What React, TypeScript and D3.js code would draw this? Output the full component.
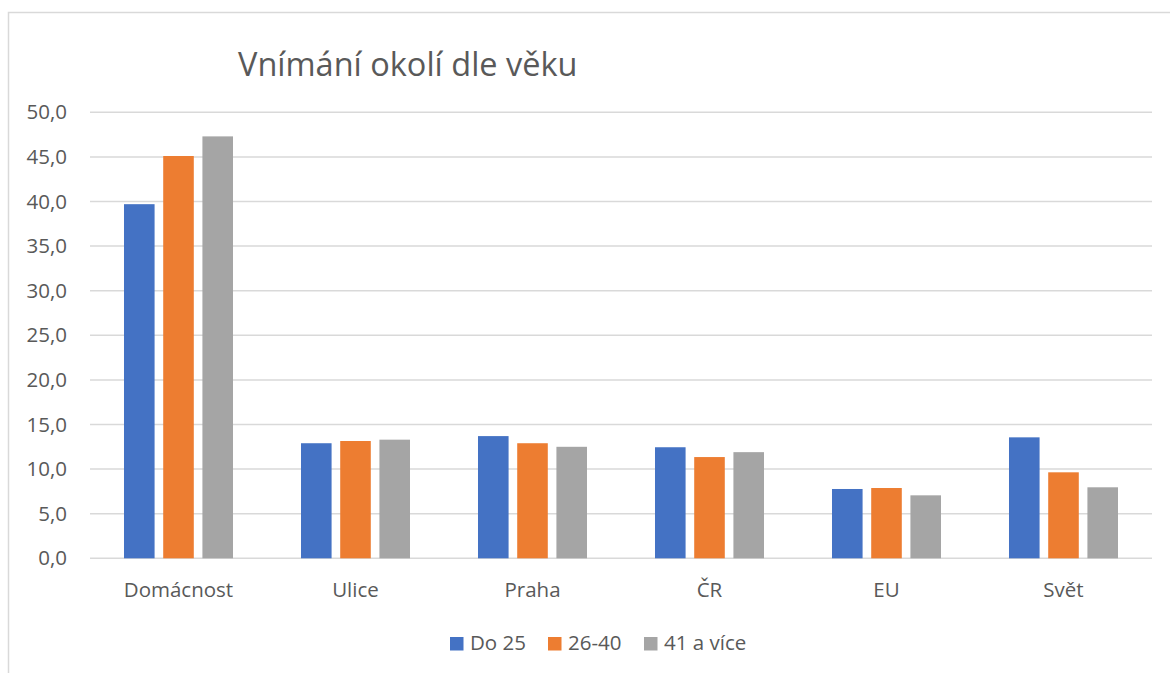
import React from "react";
import * as d3 from "d3";

const categories = ["Domácnost", "Ulice", "Praha", "ČR", "EU", "Svět"];
const seriesNames = ["Do 25", "26-40", "41 a více"];
const do25 = [39.7, 12.9, 13.7, 12.45, 7.77, 13.56];
const s2640 = [45.1, 13.15, 12.9, 11.35, 7.88, 9.64];
const s41 = [47.3, 13.3, 12.5, 11.9, 7.06, 7.96];
const yTicks = [0, 5, 10, 15, 20, 25, 30, 35, 40, 45, 50];
const colors = ["#4472C4", "#ED7D31", "#A5A5A5"];
const title = "Vnímání okolí dle věku";

const W = 1170;
const H = 673;
const FONT = "'Open Sans', sans-serif";

export default function App() {
  const seriesValues = [do25, s2640, s41];
  const x0 = d3.scaleBand<string>().domain(categories).range([90, 1152]).paddingInner(0).paddingOuter(0);
  const x1 = d3
    .scaleBand<string>()
    .domain(seriesNames)
    .range([0, x0.bandwidth()])
    .paddingInner(0.22)
    .paddingOuter(0.867);
  const y = d3.scaleLinear().domain([0, 50]).range([558.3, 112.3]);
  const fmt = (v: number) => v.toFixed(1).replace(".", ",");

  const legendItems = [
    { name: seriesNames[0], x: 450 },
    { name: seriesNames[1], x: 548 },
    { name: seriesNames[2], x: 644 },
  ];

  return (
    <svg
      width={W}
      height={H}
      style={{ position: "absolute", left: 0, top: 0, background: "#fff" }}
      fontFamily={FONT}
    >
      <rect x={8.5} y={12.5} width={1300} height={800} fill="#fff" stroke="#D9D9D9" strokeWidth={1.5} />
      <text x={238} y={76} fontSize={32.5} fill="#595959">
        {title}
      </text>
      {yTicks.map((t) => (
        <g key={t}>
          <line x1={90} x2={1152} y1={y(t)} y2={y(t)} stroke="#D9D9D9" strokeWidth={1.5} />
          <text x={67} y={y(t)} dy="0.35em" textAnchor="end" fontSize={20.5} fill="#595959">
            {fmt(t)}
          </text>
        </g>
      ))}
      {categories.map((c, i) => (
        <g key={c} transform={`translate(${x0(c)},0)`}>
          {seriesNames.map((s, j) => {
            const v = seriesValues[j][i];
            return (
              <rect
                key={s}
                x={x1(s)}
                y={y(v)}
                width={x1.bandwidth()}
                height={y(0) - y(v)}
                fill={colors[j]}
              />
            );
          })}
          <text x={x0.bandwidth() / 2} y={597} textAnchor="middle" fontSize={20.5} fill="#595959">
            {c}
          </text>
        </g>
      ))}
      {legendItems.map((l, j) => (
        <g key={l.name}>
          <rect x={l.x} y={637} width={13.5} height={13.5} fill={colors[j]} />
          <text x={l.x + 20} y={650} fontSize={20.5} fill="#595959">
            {l.name}
          </text>
        </g>
      ))}
    </svg>
  );
}
